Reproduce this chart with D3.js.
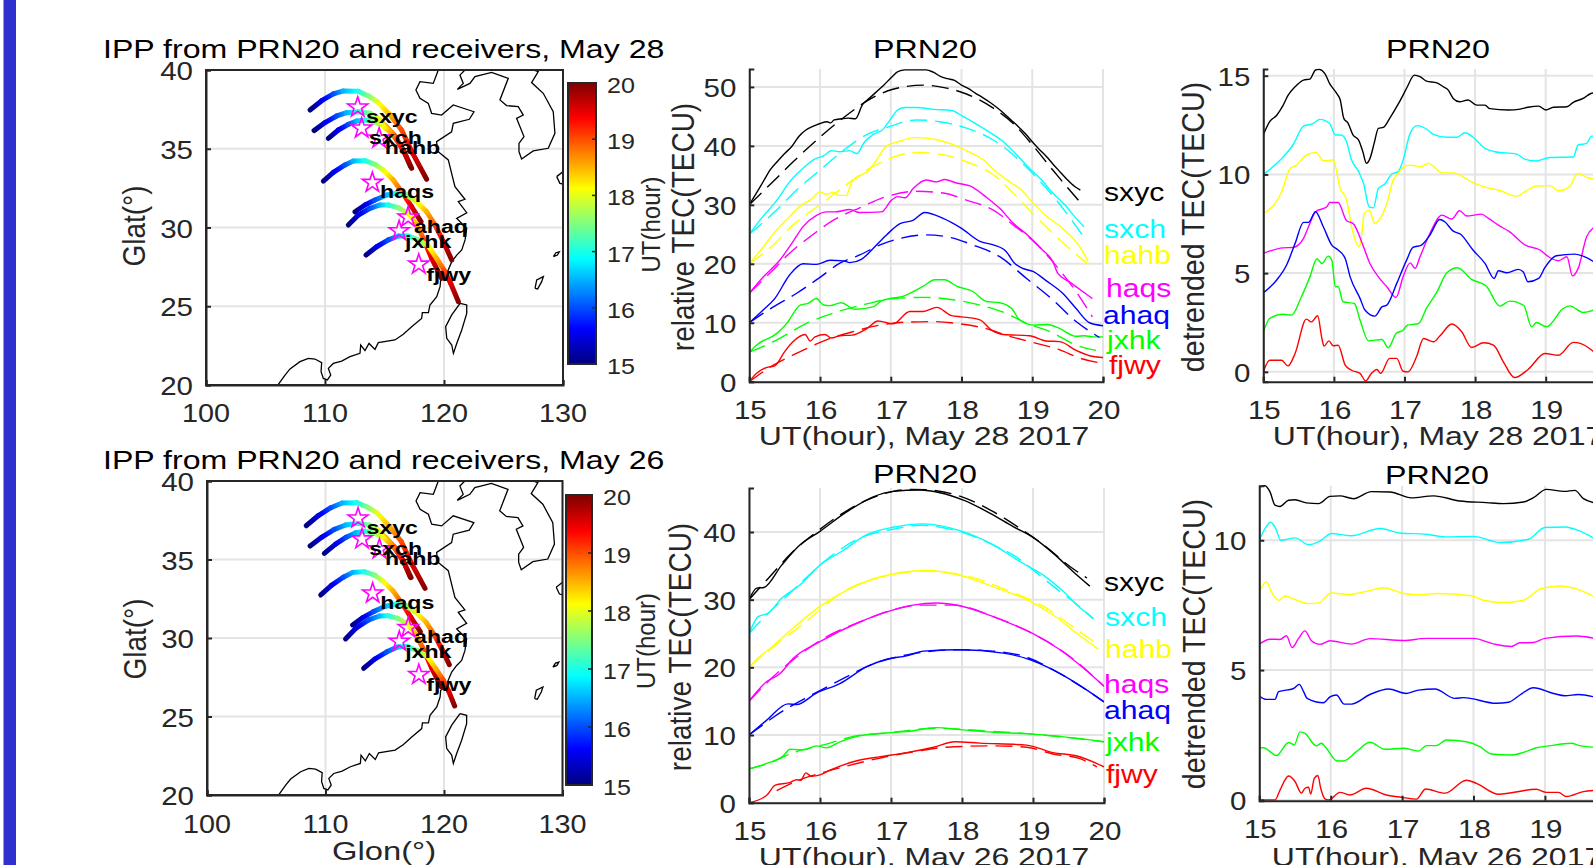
<!DOCTYPE html>
<html>
<head>
<meta charset="utf-8">
<script src="https://cdn.jsdelivr.net/npm/d3@7"></script>
<style>
    html, body { margin: 0; padding: 0; background: #fff; overflow: hidden; }
    text { font-family: "Liberation Sans", Arial, sans-serif; }
</style>
</head>
<body>
<div id="vis"></div>
<script>
// receivers, same order everywhere
const stations = ["sxyc", "sxch", "hahb", "haqs", "ahaq", "jxhk", "fjwy"]
const lineColors = ["#000000", "#00ffff", "#ffff00", "#ff00ff", "#0000ff", "#00ff00", "#ff0000"]

// station position and where its name sits on the map (lon, lat)
const stationLon = [112.75, 113.08, 114.55, 113.98, 116.98, 116.23, 117.88]
const stationLat = [37.63, 36.3, 35.66, 32.85, 30.65, 29.78, 27.66]
const nameLon = [113.45, 113.7, 115.03, 114.62, 117.47, 116.72, 118.5]
const nameLat = [36.63, 35.3, 34.67, 31.87, 29.65, 28.7, 26.6]

// coastline
const coastMain = [[106.08,20.04],[106.64,20.63],[107.06,21.02],[107.9,21.48],[108.6,21.69],[109.16,21.65],[109.72,21.42],[109.67,20.85],[109.86,20.42],[110.2,20.32],[110.48,20.63],[110.28,21.06],[110.7,21.37],[111.4,21.52],[112.1,21.8],[112.94,22.01],[113,22.54],[113.36,22.18],[113.7,22.64],[114.2,22.26],[114.48,22.69],[115.88,22.86],[116.58,23.22],[117.28,23.7],[118.12,24.23],[118.18,24.59],[118.69,24.59],[118.82,25.08],[119.39,25.61],[119.67,26.24],[119.72,26.67],[120.09,26.83],[120.65,27.83],[121.07,28.25],[121.49,28.57],[121.77,29.21],[121.91,29.95],[121.07,30.58],[121.91,30.94],[121.2,31.64],[121.76,31.79],[120.92,32.59],[120.36,34.29],[119.44,34.86],[119.38,35.45],[120.64,36.08],[120.78,36.61],[122.13,36.87],[122.52,37.35],[120.78,37.78],[119.8,37.14],[118.96,37.25],[118.68,37.88],[117.98,38.2],[117.64,38.73],[117.98,39.26],[119.1,39.15],[119.52,40]]
const coastKorea = [[121.76,40],[121.34,39.68],[121.62,39.15],[121.12,38.77],[122.18,39.15],[122.6,39.58],[124,39.85],[125.4,39.47],[124.7,38.1],[125.26,37.74],[126.24,37.67],[126.66,37.14],[126.1,36.93],[126.72,35.77],[126.3,35.34],[126.3,34.81],[126.52,34.35],[127.5,34.86],[128.76,35.03],[129.32,35.98],[129.18,37.35],[128.34,38.52],[127.36,39.2],[127.92,39.9],[127.5,40]]
const coastTaiwan = [[121.35,25.18],[121.91,25.08],[121.91,24.55],[121.49,23.49],[121.07,22.64],[120.79,22.01],[120.65,22.54],[120.23,22.96],[120.14,23.7],[120.65,24.45],[121.35,25.18]]
const coastKyushu = [[129.47,33.23],[130,33.55],[130.2,33.2],[130,32.76],[129.74,32.8],[129.47,33.23]]
const coastAmami = [[129.19,28.15],[129.41,28.4],[129.69,28.46],[129.53,28.25],[129.19,28.15]]
const coastOkinawa = [[127.65,26.14],[127.79,26.67],[128.35,26.88],[128.21,26.56],[127.87,26.1],[127.65,26.14]]

// IPP tracks, one knot every half hour
const trackHours = [15, 15.5, 16, 16.5, 17, 17.5, 18, 18.5, 19, 19.5, 20]
const track28Lon = [
    [108.74,109.72,110.7,111.54,112.8,113.64,114.4,115.46,116.44,117.37,118.54],
    [109.08,110,110.98,111.82,112.8,113.78,114.48,115.18,115.88,116.58,117.28],
    [110.28,111.12,111.96,112.66,113.36,114.06,114.76,115.46,116.02,116.64,117.2],
    [109.86,110.7,111.68,112.38,113.36,114.2,114.9,115.74,116.44,117.28,118.07],
    [112.52,113.36,114.2,115.18,116.02,116.86,117.7,118.54,119.24,119.95,120.65],
    [111.96,112.8,113.78,114.62,115.32,116.16,117,117.7,118.26,118.96,119.8],
    [113.45,114.34,115.32,116.16,117,117.84,118.68,119.38,120,120.56,121.21]
]
const track28Lat = [
    [37.46,38.05,38.48,38.67,38.65,38.35,37.99,37.14,36.19,34.71,33.06],
    [36.15,36.66,37.08,37.29,37.35,37.25,36.93,36.4,35.81,34.92,33.76],
    [35.66,36.19,36.55,36.76,36.83,36.72,36.51,36.08,35.56,34.81,33.86],
    [32.95,33.5,33.97,34.22,34.24,34.01,33.65,33.02,32.28,31.32,30.37],
    [31,31.43,31.75,32.06,32.17,32.06,31.64,31,30.16,29.1,27.94],
    [30.16,30.79,31.22,31.43,31.43,31.26,30.9,30.2,29.3,28.04,26.77],
    [28.25,28.78,29.21,29.46,29.46,29.21,28.83,28.04,27.3,26.46,25.29]
]
const track26Lon = [
    [108.37,109.4,110.45,111.4,112.65,113.55,114.35,115.4,116.4,117.3,118.4],
    [108.7,109.7,110.75,111.7,112.7,113.7,114.42,115.12,115.82,116.52,117.22],
    [109.9,110.85,111.75,112.55,113.28,114,114.7,115.4,116,116.6,117.15],
    [109.6,110.5,111.5,112.3,113.3,114.15,114.85,115.7,116.4,117.22,118],
    [112.29,113.15,114.05,115.05,115.95,116.8,117.65,118.5,119.18,119.85,120.45],
    [111.69,112.6,113.65,114.55,115.25,116.1,116.95,117.65,118.25,118.95,119.75],
    [113.22,114.15,115.18,116.05,116.9,117.75,118.6,119.3,119.92,120.4,120.9]
]
const track26Lat = [
    [37.15,37.8,38.3,38.6,38.62,38.33,37.97,37.1,36.15,34.7,33.16],
    [35.86,36.43,36.92,37.2,37.3,37.2,36.9,36.38,35.8,34.95,33.85],
    [35.39,35.98,36.42,36.7,36.8,36.7,36.5,36.07,35.55,34.85,33.88],
    [32.74,33.35,33.87,34.18,34.22,34,33.63,33,32.27,31.3,30.4],
    [30.83,31.3,31.68,32.02,32.15,32.05,31.63,31,30.2,29.25,28.3],
    [29.94,30.65,31.15,31.4,31.42,31.25,30.9,30.2,29.3,28.1,26.9],
    [28.07,28.65,29.12,29.42,29.46,29.2,28.83,28.05,27.35,26.6,25.67]
]

// relative TEC May 28, [hour, TECU]
const tec28 = [
    [[15,30],[15.1,32],[15.2,34],[15.3,36],[15.4,37.4],[15.5,38.7],[15.6,39.9],[15.7,41.6],[15.8,42.7],[15.9,43.3],[16,43.8],[16.1,44.1],[16.15,43.9],[16.2,44.4],[16.3,44.6],[16.4,44.7],[16.5,44.6],[16.6,47],[16.7,48.1],[16.8,49.2],[16.9,50.3],[17,51.5],[17.1,52.6],[17.2,52.9],[17.3,52.9],[17.4,52.9],[17.5,52.9],[17.6,52.5],[17.7,51.8],[17.8,51.4],[17.9,51.1],[18,50.3],[18.1,49.7],[18.2,48.9],[18.3,48.2],[18.4,47.4],[18.5,46.5],[18.6,45.5],[18.7,44.4],[18.8,43.3],[18.9,42.1],[19,40.7],[19.1,39.4],[19.2,38.2],[19.3,36.8],[19.4,35.5],[19.5,34.2],[19.6,33.1],[19.68,32.5]],
    [[15,25],[15.15,27.4],[15.39,30.8],[15.57,33.9],[15.76,36.2],[15.93,37.8],[16.05,38.3],[16.16,39.2],[16.28,39],[16.42,39.2],[16.52,38.7],[16.63,40.7],[16.75,41.9],[16.89,42.8],[16.99,44.4],[17.1,46.1],[17.2,46.5],[17.36,46.5],[17.6,46.2],[17.86,46],[18.02,45],[18.21,43.7],[18.45,41.9],[18.59,40.7],[18.78,38.5],[18.96,36.2],[19.11,34.5],[19.29,32],[19.46,30],[19.62,27.7],[19.73,26.3]],
    [[15,20],[15.2,22.9],[15.39,25.8],[15.57,28],[15.74,30],[15.86,30.8],[16,32.2],[16.09,31.8],[16.19,32.1],[16.26,31.6],[16.37,31.6],[16.45,33.9],[16.52,34.6],[16.66,35.6],[16.8,37.6],[16.94,40],[17.08,40.6],[17.34,41.4],[17.67,41],[17.88,40.2],[18.12,38.9],[18.31,37.6],[18.49,35.6],[18.68,33.9],[18.82,32.8],[19,30.5],[19.2,28.1],[19.43,26],[19.67,22.9],[19.79,20.4]],
    [[15,15],[15.2,17.8],[15.43,20.6],[15.62,23.8],[15.76,26.3],[15.95,28.2],[16.09,28.8],[16.21,28.8],[16.42,29.2],[16.56,28.7],[16.87,28.8],[17.01,30.8],[17.1,31.4],[17.2,31.2],[17.32,32.8],[17.5,34.2],[17.65,33.9],[17.76,34.3],[17.93,33.7],[18.12,33.2],[18.35,31.3],[18.54,29.4],[18.73,26.9],[18.96,24.6],[19.15,22.3],[19.29,20.4],[19.36,18.4],[19.53,16.9],[19.85,14.1]],
    [[15,10],[15.2,12.2],[15.36,14.1],[15.57,18.1],[15.76,20],[15.95,19.9],[16.14,20.6],[16.33,20.5],[16.42,20.2],[16.59,20.8],[16.75,22.6],[16.94,24.9],[17.13,26.8],[17.32,27.4],[17.48,28.7],[17.74,27.7],[18,26],[18.26,23.8],[18.45,23.2],[18.63,22.1],[18.75,20.1],[18.87,19.2],[19.01,18.7],[19.2,17.1],[19.43,15],[19.62,12.4],[19.81,10],[20,9.5]],
    [[15,5],[15.1,6.2],[15.39,8.2],[15.53,9.9],[15.72,13],[15.83,13.3],[15.95,14.1],[16.05,13],[16.14,12.9],[16.3,13.4],[16.49,12.3],[16.75,12.7],[16.87,13.7],[17.2,14.6],[17.46,16.2],[17.62,17.3],[17.76,17.3],[17.93,16.2],[18.16,15.3],[18.35,13.6],[18.54,13.4],[18.71,12.4],[18.82,10.5],[19.01,9.6],[19.22,9.7],[19.39,9],[19.62,7.7],[19.74,7.8],[19.86,7.6],[20,7.6]],
    [[15,0],[15.1,1.4],[15.24,2.4],[15.36,2.7],[15.5,5.1],[15.62,6.8],[15.79,8],[15.86,6.9],[15.93,7.6],[16.07,8],[16.16,7.4],[16.28,7.8],[16.45,7.9],[16.66,9],[16.82,10.3],[17.03,9.8],[17.27,11.9],[17.46,11.9],[17.65,12.6],[17.86,11.2],[18,11],[18.26,10.5],[18.42,8.8],[18.59,8],[18.96,7.8],[19.2,6.9],[19.39,6.8],[19.62,5.3],[19.81,4.4],[20,4.1]]
]
const fit28 = [
    [[15,30],[15.29,33.4],[15.62,37.3],[16,41.5],[16.4,45.4],[16.66,47.6],[17.03,49.6],[17.46,50.3],[17.79,49.8],[18.07,48.8],[18.45,46.4],[18.73,43.8],[19,40.2],[19.29,35.9],[19.68,30.4]],
    [[15,25],[15.34,28.6],[15.67,32.5],[16,35.9],[16.37,39.6],[16.66,41.9],[16.99,43.3],[17.36,44.4],[17.69,44.1],[18.07,43],[18.45,41],[18.73,38.5],[19,35.4],[19.34,30.8],[19.73,24.5]],
    [[15,20],[15.34,23.2],[15.62,26.6],[16,30],[16.37,33.4],[16.66,35.9],[16.94,37.6],[17.36,38.9],[17.69,38.6],[18.07,37.3],[18.45,35.1],[18.73,32],[19,28.6],[19.34,24.6],[19.79,19.9]],
    [[15,15],[15.34,19],[15.57,21.8],[15.86,24.6],[16.19,27.4],[16.56,29.5],[16.94,31.4],[17.36,32.3],[17.74,32],[18.07,30.8],[18.45,29.1],[18.73,26.6],[19,24],[19.39,18.9],[19.67,14.4],[19.85,11]],
    [[15,10],[15.34,12.7],[15.67,15],[16,17.7],[16.28,20.1],[16.56,21.5],[16.85,23.2],[17.13,24.3],[17.5,24.9],[17.83,24.5],[18.16,23.2],[18.54,21.2],[18.92,17.5],[19.29,13.9],[19.62,10.2],[19.95,7.5]],
    [[15,5],[15.39,7.1],[15.81,9.9],[16.28,12],[16.66,13.2],[17.03,14.1],[17.5,14.3],[17.88,13.9],[18.26,13],[18.63,11.6],[18.92,9.9],[19.25,8.5],[19.62,6.2],[20,5.1]],
    [[15,0],[15.34,2.8],[15.72,5.1],[16.09,7.1],[16.47,8.5],[16.85,9.6],[17.22,10.1],[17.6,10.2],[17.98,9.8],[18.35,9],[18.68,7.7],[19.06,6.5],[19.39,5.4],[19.67,4],[20,3.1]]
]

// relative TEC May 26
const tec26 = [
    [[15,30],[15.11,31.7],[15.21,31.8],[15.46,35.1],[15.72,38.1],[16,40.1],[16.38,43],[16.75,45.2],[17.03,46],[17.41,46.2],[17.69,45.8],[18.02,44.7],[18.39,42.8],[18.72,40.8],[19,39.2],[19.29,36.8],[19.57,34.1],[19.8,32]],
    [[15,25],[15.13,27.5],[15.27,28],[15.46,30.2],[15.72,32.2],[16,35.1],[16.33,37.3],[16.66,39.6],[17.03,40.7],[17.46,41.2],[17.97,40.2],[18.44,38.1],[18.82,35.6],[19.15,33.6],[19.43,31.2],[19.62,29.2],[19.85,27.2]],
    [[15,20],[15.15,21.6],[15.3,22.8],[15.62,25.8],[16,29],[16.38,31.4],[16.8,33.2],[17.5,34.3],[17.97,33.6],[18.44,31.9],[18.91,30],[19.29,27.7],[19.62,25],[19.92,22.7]],
    [[15,15],[15.25,17.9],[15.44,19.1],[15.62,21.3],[16,23.8],[16.56,26.7],[16.94,28.2],[17.31,29.2],[17.64,29.5],[17.97,29.1],[18.44,27.5],[18.72,26.3],[19,25],[19.38,22.6],[19.71,19.9],[20,17.2]],
    [[15,10],[15.25,12.2],[15.55,14.6],[15.67,14.5],[15.95,16.2],[16.28,17.6],[16.66,20.1],[16.94,21.2],[17.22,21.7],[17.46,22.4],[17.97,22.6],[18.58,22.1],[18.91,21.3],[19.29,19.6],[19.62,17.6],[20,14.9]],
    [[15,5],[15.25,5.8],[15.48,6.9],[15.58,7.9],[15.77,7.8],[15.95,8.4],[16.09,8.1],[16.28,9],[16.52,9.8],[16.94,10.3],[17.22,10.5],[17.64,11.1],[17.97,10.8],[18.44,10.4],[18.91,10.2],[19.38,9.8],[20,9]],
    [[15,0],[15.25,1.1],[15.37,2.6],[15.58,3],[15.67,3.4],[15.73,3.3],[15.8,4.4],[15.88,3.9],[16,4.1],[16.14,4.8],[16.52,6.2],[16.85,6.8],[17.22,7.4],[17.6,8.2],[17.9,9],[18.25,8.8],[18.91,8.5],[19.28,7.4],[19.62,6.9],[20,5.3]]
]
const fit26 = [
    [[15,30],[15.25,32.9],[15.62,37.1],[15.95,40],[16.28,42.5],[16.66,44.7],[17.03,46],[17.31,46.3],[17.64,46.1],[17.97,45.3],[18.44,43],[18.82,40.5],[19.15,38.1],[19.52,34.9],[19.76,33.2]],
    [[15,25],[15.15,26.7],[15.62,31.4],[16.09,35.9],[16.56,39.1],[17.03,40.4],[17.41,41],[17.88,40.3],[18.44,38.1],[18.82,35.9],[19,34.4],[19.38,31.2],[19.57,29.7],[19.85,27.2]],
    [[15,20],[15.2,21.8],[15.77,26.5],[16.38,31.5],[16.8,33.2],[17.5,34.2],[18.11,33.4],[18.68,31.2],[19.15,29],[19.52,26.3],[19.92,23.3]],
    [[15,15],[15.34,18.6],[15.62,21.1],[16.09,24.5],[16.56,26.7],[17.03,28.5],[17.41,29.2],[17.88,29.2],[18.44,27.5],[19.05,24.7],[19.52,21.6],[20,17.2]],
    [[15,10],[15.53,13.9],[15.86,15.8],[16.19,17.6],[16.8,20.7],[17.31,22],[17.97,22.6],[18.44,22.4],[18.91,21.5],[19.29,19.6],[20,14.9]],
    [[15,5],[15.3,5.9],[15.6,7.3],[16.14,8.8],[16.47,9.8],[16.94,10.3],[17.64,11],[18.35,10.6],[18.91,10.2],[20,9]],
    [[15.39,1.8],[15.72,3.4],[16.09,4.6],[16.56,5.9],[17.03,7],[17.31,7.5],[17.78,8.2],[18.44,8.4],[18.91,8.2],[19.28,7.2],[19.66,6.5],[19.9,5.3]]
]

// detrended TEC May 28
const det28 = [
    [[15,12],[15.09,12.67],[15.19,13],[15.28,13.5],[15.35,14],[15.45,14.44],[15.57,14.78],[15.66,14.83],[15.74,15.29],[15.79,15.32],[15.87,15.12],[15.94,14.6],[16.04,14.1],[16.09,13.77],[16.14,12.84],[16.2,12.6],[16.27,12],[16.35,11.74],[16.41,11.15],[16.46,10.56],[16.51,10.8],[16.57,11.57],[16.63,12.33],[16.7,12.38],[16.79,12.84],[16.89,13.43],[16.98,14.02],[17.04,14.44],[17.14,15.03],[17.22,14.95],[17.31,14.73],[17.46,14.64],[17.55,14.44],[17.62,14.27],[17.69,13.85],[17.78,13.68],[17.9,13.77],[18.02,13.51],[18.14,13.51],[18.21,13.33],[18.47,13.26],[18.64,13.31],[18.75,13.4],[18.9,13.46],[19,13.26],[19.11,13.4],[19.3,13.43],[19.39,13.65],[19.53,13.85],[19.64,14.1],[19.7,14.14]],
    [[15,10],[15.24,10.73],[15.42,11.49],[15.57,12.45],[15.71,12.58],[15.8,12.79],[15.94,12.58],[16.02,12],[16.1,12],[16.17,11.74],[16.25,10.73],[16.35,10.14],[16.42,9.54],[16.5,8.36],[16.56,8.31],[16.63,9.29],[16.72,9.51],[16.82,10.02],[16.91,10.14],[16.98,10.73],[17.08,12.08],[17.18,12.47],[17.31,12.3],[17.41,12.03],[17.6,11.88],[17.74,11.88],[17.86,12.11],[17.97,11.88],[18.14,11.32],[18.28,11.15],[18.59,11.03],[18.71,10.76],[18.87,10.68],[19.06,10.86],[19.39,10.88],[19.46,11.49],[19.58,11.57],[19.65,11.94],[19.7,11.94]],
    [[15,8],[15.26,9.12],[15.38,10.3],[15.47,10.47],[15.61,10.98],[15.75,11.11],[15.85,10.69],[15.99,10.73],[16.09,9.29],[16.18,8.7],[16.25,7.35],[16.36,6.33],[16.39,6.84],[16.43,8.02],[16.5,8.19],[16.58,7.52],[16.63,7.65],[16.75,8.53],[16.84,9.71],[16.91,10.05],[16.98,10.35],[17.08,10.47],[17.22,10.39],[17.34,10.56],[17.53,10.08],[17.69,10.08],[17.83,9.88],[17.97,9.58],[18.16,9.34],[18.33,9.21],[18.59,8.9],[18.73,9.17],[18.87,9.41],[19.06,9.43],[19.18,9.17],[19.34,9.38],[19.45,10.05],[19.6,9.83],[19.7,9.75]],
    [[15,6],[15.28,6.28],[15.42,6.3],[15.57,6.76],[15.66,7.52],[15.74,8.11],[15.9,8.36],[15.94,8.58],[16.06,8.58],[16.18,7.65],[16.27,7.52],[16.42,6.33],[16.51,5.49],[16.63,4.81],[16.75,4.31],[16.88,3.77],[16.98,4.81],[17.08,5.52],[17.15,5.24],[17.22,5.83],[17.36,7.01],[17.53,7.94],[17.67,7.74],[17.78,8.16],[17.88,7.89],[18.09,7.99],[18.19,7.77],[18.33,7.43],[18.49,7.09],[18.71,6.42],[18.92,6.17],[19.04,5.83],[19.18,5.63],[19.3,5.83],[19.38,4.86],[19.46,5.24],[19.58,6.84],[19.7,7.35]],
    [[15,4],[15.19,4.65],[15.33,5.41],[15.45,6.5],[15.57,7.57],[15.64,7.57],[15.74,8.11],[15.85,7.35],[15.97,6.42],[16.06,6.17],[16.16,5.74],[16.23,4.81],[16.37,3.72],[16.44,3.13],[16.58,2.82],[16.68,3.29],[16.75,3.38],[16.89,4.48],[17.03,5.66],[17.12,6.3],[17.24,6.42],[17.36,6.93],[17.5,7.72],[17.57,7.6],[17.69,7.13],[17.79,6.98],[17.97,6.17],[18.14,5.49],[18.27,4.73],[18.33,5.12],[18.45,5.02],[18.61,5.19],[18.68,5.07],[18.75,4.56],[18.9,4.73],[18.99,5.29],[19.15,5.88],[19.41,5.96],[19.7,5.54]],
    [[15,2],[15.09,2.7],[15.28,2.92],[15.4,2.87],[15.54,3.8],[15.66,4.81],[15.76,5.73],[15.83,5.49],[15.92,5.86],[15.97,5.66],[16.02,4.31],[16.06,4.31],[16.13,3.55],[16.29,3.46],[16.37,2.62],[16.49,1.57],[16.68,1.64],[16.77,1.22],[16.88,1.94],[16.98,2.11],[17.04,2.36],[17.2,2.45],[17.31,3.21],[17.46,4.05],[17.6,5.02],[17.75,5.27],[17.95,4.68],[18.16,4.34],[18.35,3.33],[18.49,3.58],[18.69,3.36],[18.8,2.28],[18.87,2.5],[19.01,2.28],[19.25,3.21],[19.34,3.34],[19.53,3.01],[19.7,3.16]],
    [[15,0],[15.09,0.59],[15.26,0.59],[15.35,0.3],[15.45,0.93],[15.61,2.67],[15.68,2.53],[15.77,2.84],[15.83,1.69],[15.86,1.3],[15.93,1.57],[15.99,1.32],[16.06,1.35],[16.16,0.34],[16.25,0.08],[16.37,-0.08],[16.45,-0.46],[16.53,-0.08],[16.61,0.12],[16.66,-0.08],[16.79,0.68],[16.89,0.68],[16.98,0.03],[17.05,0],[17.17,0.76],[17.27,1.69],[17.41,1.52],[17.5,1.81],[17.67,2.42],[17.81,2.03],[17.95,1.23],[18.12,1.47],[18.26,1.35],[18.4,0.51],[18.56,-0.29],[18.75,0.12],[18.99,0.93],[19.18,0.84],[19.39,1.49],[19.49,1.44],[19.7,0.96]]
]

// detrended TEC May 26
const det26 = [
    [[15,12.05],[15.08,12.1],[15.15,11.86],[15.22,11.35],[15.29,11.3],[15.41,11.54],[15.5,11.56],[15.66,11.44],[15.83,11.41],[15.99,11.69],[16.13,11.71],[16.32,11.6],[16.57,11.87],[16.83,11.86],[17.13,11.63],[17.44,11.71],[17.81,11.51],[18.18,11.45],[18.42,11.41],[18.7,11.47],[18.84,11.64],[19.02,11.96],[19.27,11.88],[19.42,11.92],[19.54,11.6],[19.7,11.44]],
    [[15,10],[15.08,10.45],[15.16,10.69],[15.23,10.45],[15.3,10],[15.5,10.09],[15.69,9.83],[15.85,9.97],[16.01,10.26],[16.29,10.17],[16.69,10.45],[16.97,10.28],[17.34,10.23],[17.6,10.13],[18,10.15],[18.37,9.91],[18.77,10.04],[19,10.49],[19.28,10.51],[19.49,10.35],[19.7,10.05]],
    [[15,8],[15.1,8.4],[15.17,8.01],[15.27,7.69],[15.36,7.85],[15.5,7.72],[15.69,7.56],[15.83,7.59],[16.01,7.97],[16.25,7.91],[16.53,8.05],[16.74,8.17],[17.02,7.95],[17.25,7.9],[17.48,7.95],[17.97,7.86],[18.14,7.69],[18.42,7.6],[18.7,7.69],[18.95,8.14],[19.21,8.24],[19.49,8.08],[19.7,7.82]],
    [[15,6],[15.15,6.19],[15.29,6.18],[15.38,6.32],[15.46,5.87],[15.55,6.22],[15.64,6.51],[15.73,6.13],[15.85,5.99],[15.99,6.13],[16.29,6],[16.55,6.21],[17.02,6.14],[17.34,6.22],[18,6.22],[18.28,6.01],[18.53,5.91],[18.65,6.05],[18.84,6.06],[19,6.22],[19.44,6.31],[19.7,6.22]],
    [[15,4],[15.1,3.87],[15.22,3.87],[15.27,4.17],[15.48,4.29],[15.56,4.45],[15.62,4.17],[15.67,3.91],[15.9,3.74],[15.99,3.97],[16.08,4.04],[16.19,3.69],[16.29,3.69],[16.55,4.06],[16.81,4.27],[17.06,4.1],[17.23,4.23],[17.46,4.27],[17.74,3.91],[17.86,3.94],[18.32,3.72],[18.49,3.76],[18.65,4.04],[18.84,4.32],[19.12,4.1],[19.28,4.01],[19.47,4.06],[19.7,3.96]],
    [[15,2],[15.06,2.01],[15.24,1.71],[15.41,2.21],[15.49,2.12],[15.57,2.62],[15.64,2.56],[15.8,2.08],[15.87,2.18],[15.94,1.99],[16.08,1.51],[16.18,1.5],[16.36,1.86],[16.55,2.22],[16.76,1.95],[17.02,1.99],[17.23,1.88],[17.34,2.09],[17.48,2.09],[17.62,2.31],[17.9,2.24],[18.09,2.05],[18.25,1.77],[18.53,1.73],[18.7,1.83],[18.88,2.01],[19.05,2.08],[19.37,2.18],[19.49,2.09],[19.7,2.03]],
    [[15,0],[15.22,0],[15.29,0.38],[15.41,0.92],[15.5,0.71],[15.59,0.26],[15.64,0.45],[15.69,0.49],[15.72,0.23],[15.77,0.83],[15.82,0.94],[15.86,0.45],[15.92,0.04],[15.97,0],[16.13,0.29],[16.27,0.19],[16.5,0.45],[16.78,0.19],[17.02,0.09],[17.2,0.03],[17.33,0.42],[17.6,0.26],[17.9,0.76],[18.04,0.64],[18.35,0.22],[18.88,0.41],[19.02,0.29],[19.19,0.29],[19.3,0.13],[19.54,0.32],[19.7,0.37]]
]

const hourTicks = [15, 16, 17, 18, 19, 20]
const width = 1593
const height = 865
const axisColor = "#262626"
const gridColor = "#e4e4e4"

const svg = d3.select("#vis")
    .append("svg")
    .attr("width", width)
    .attr("height", height)

const defs = svg.append("defs")
let clipCount = 0
let gradCount = 0

// blue strip on the left of the screenshot
svg.append("rect")
    .attr("x", 3.5).attr("y", 0)
    .attr("width", 12.5).attr("height", height)
    .attr("fill", "#3030d0")

// the figure is wider than tall, so text gets stretched a bit sideways
function addText(str, x, y, opt) {
    opt = opt || {}
    const sx = opt.sx || 1.18
    const rot = opt.rotate ? " rotate(-90)" : ""
    return svg.append("text")
        .attr("transform", "translate(" + x + "," + y + ") scale(" + sx + ",1)" + rot)
        .attr("text-anchor", opt.anchor || "start")
        .attr("font-size", opt.size || 24)
        .attr("font-weight", opt.weight || "normal")
        .attr("fill", opt.color || axisColor)
        .text(str)
}

function jet(t) {
    const c = v => Math.round(255 * Math.max(0, Math.min(1, v)))
    return "rgb(" + c(1.5 - Math.abs(4 * t - 3)) + "," + c(1.5 - Math.abs(4 * t - 2)) + "," + c(1.5 - Math.abs(4 * t - 1)) + ")"
}

function addClip(b) {
    const id = "clip" + (clipCount++)
    defs.append("clipPath").attr("id", id)
        .append("rect")
        .attr("x", b.x0).attr("y", b.y1)
        .attr("width", b.x1 - b.x0).attr("height", b.y0 - b.y1)
    return "url(#" + id + ")"
}

function drawGrid(g, x, y, b, xTicks, yTicks) {
    g.selectAll(".gx").data(xTicks).join("line")
        .attr("x1", d => x(d)).attr("x2", d => x(d))
        .attr("y1", b.y0).attr("y2", b.y1)
        .attr("stroke", gridColor).attr("stroke-width", 2)
    g.selectAll(".gy").data(yTicks).join("line")
        .attr("x1", b.x0).attr("x2", b.x1)
        .attr("y1", d => y(d)).attr("y2", d => y(d))
        .attr("stroke", gridColor).attr("stroke-width", 2)
}

function styleAxis(sel) {
    sel.selectAll("path,line").attr("stroke", axisColor).attr("stroke-width", 2)
    sel.selectAll("text").remove()
}

function drawMap(b, bar, lons, lats, opt) {
    const x = d3.scaleLinear().domain([100, 130]).range([b.x0, b.x1])
    const y = d3.scaleLinear().domain([20, 40]).range([b.y0, b.y1])
    const xTicks = [100, 110, 120, 130]
    const yTicks = [20, 25, 30, 35, 40]
    const clip = addClip(b)

    const g = svg.append("g")
    drawGrid(g, x, y, b, xTicks, yTicks)

    // coast
    const coastLine = d3.line().x(d => x(d[0])).y(d => y(d[1]))
    g.append("g").attr("clip-path", clip)
        .selectAll("path")
        .data([coastMain, coastKorea, coastTaiwan, coastKyushu, coastAmami, coastOkinawa])
        .join("path")
        .attr("d", coastLine)
        .attr("fill", "none")
        .attr("stroke", "#000")
        .attr("stroke-width", 1.3)

    // tracks, a gradient on every piece so the colour runs with UT
    const tg = g.append("g")
    const utToColor = d => jet((d - 15) / 5)
    lons.forEach(function(lon, i) {
        for (let k = 0; k < trackHours.length - 1; k++) {
            const id = "seg" + (gradCount++)
            const x1 = x(lon[k]), y1 = y(lats[i][k]), x2 = x(lon[k + 1]), y2 = y(lats[i][k + 1])
            const grad = defs.append("linearGradient").attr("id", id)
                .attr("gradientUnits", "userSpaceOnUse")
                .attr("x1", x1).attr("y1", y1).attr("x2", x2).attr("y2", y2)
            d3.range(5).forEach(function(s) {
                grad.append("stop").attr("offset", s / 4)
                    .attr("stop-color", utToColor(trackHours[k] + (trackHours[k + 1] - trackHours[k]) * s / 4))
            })
            tg.append("line")
                .attr("x1", x1).attr("y1", y1).attr("x2", x2).attr("y2", y2)
                .attr("stroke", "url(#" + id + ")")
                .attr("stroke-width", 5)
                .attr("stroke-linecap", "round")
        }
    })

    // stations
    const star = d3.symbol().type(d3.symbolStar).size(125)
    g.selectAll(".star").data(stations).join("path")
        .attr("d", star)
        .attr("transform", (d, i) => "translate(" + x(stationLon[i]) + "," + y(stationLat[i]) + ")")
        .attr("fill", "none")
        .attr("stroke", "#ff00ff")
        .attr("stroke-width", 1.6)

    stations.forEach(function(s, i) {
        addText(s, x(nameLon[i]), y(nameLat[i]), { size: 19, sx: 1.22, weight: "bold", color: "#000" })
    })

    // box
    svg.append("rect")
        .attr("x", b.x0).attr("y", b.y1)
        .attr("width", b.x1 - b.x0).attr("height", b.y0 - b.y1)
        .attr("fill", "none").attr("stroke", axisColor).attr("stroke-width", 2)
    svg.append("g").attr("transform", "translate(0," + b.y0 + ")")
        .call(d3.axisBottom(x).tickValues(xTicks).tickSize(-5))
        .call(styleAxis)
    svg.append("g").attr("transform", "translate(" + b.x0 + ",0)")
        .call(d3.axisLeft(y).tickValues(yTicks).tickSize(-5))
        .call(styleAxis)

    xTicks.forEach(t => addText(t, x(t), opt.xLabelY, { anchor: "middle", size: 25, sx: 1.15 }))
    yTicks.forEach(t => addText(t, b.x0 - 13, y(t) + 10, { anchor: "end", size: 25, sx: 1.18 }))

    // colorbar
    const cy = d3.scaleLinear().domain([15, 20]).range([bar.y0, bar.y1])
    const gid = "bar" + (gradCount++)
    const lg = defs.append("linearGradient").attr("id", gid)
        .attr("x1", 0).attr("y1", 1).attr("x2", 0).attr("y2", 0)
    d3.range(33).forEach(function(s) {
        lg.append("stop").attr("offset", s / 32).attr("stop-color", jet(s / 32))
    })
    svg.append("rect")
        .attr("x", bar.x0).attr("y", bar.y1)
        .attr("width", bar.x1 - bar.x0).attr("height", bar.y0 - bar.y1)
        .attr("fill", "url(#" + gid + ")")
        .attr("stroke", axisColor).attr("stroke-width", 2)
    svg.append("g").selectAll("line").data([16, 17, 18, 19]).join("line")
        .attr("x1", bar.x1 - 4).attr("x2", bar.x1)
        .attr("y1", d => cy(d)).attr("y2", d => cy(d))
        .attr("stroke", axisColor).attr("stroke-width", 1.5)
    d3.range(15, 21).forEach(t => addText(t, bar.labelX, cy(t) + 10, { size: 22, sx: 1.14 }))
    addText("UT(hour)", bar.titleX, (bar.y0 + bar.y1) / 2 + 1, { size: 24, sx: 1.05, anchor: "middle", rotate: true })
}

function drawLines(b, xDomain, yDomain, yTicks, solid, dashed) {
    const x = d3.scaleLinear().domain(xDomain).range([b.x0, b.x1])
    const y = d3.scaleLinear().domain(yDomain).range([b.y0, b.y1])
    const xGrid = hourTicks.filter(t => x(t) <= width)
    const clip = addClip({ x0: b.x0, x1: b.x1, y0: b.y0 + 2, y1: b.y1 - 2 })

    const g = svg.append("g")
    drawGrid(g, x, y, b, xGrid, yTicks)

    const line = d3.line().curve(d3.curveMonotoneX).x(d => x(d[0])).y(d => y(d[1]))
    const lg = g.append("g").attr("clip-path", clip)
    lg.selectAll(".solid").data(solid).join("path")
        .attr("d", line)
        .attr("fill", "none")
        .attr("stroke", (d, i) => lineColors[i])
        .attr("stroke-width", 1.4)
    if (dashed) {
        lg.selectAll(".dash").data(dashed).join("path")
            .attr("d", line)
            .attr("fill", "none")
            .attr("stroke", (d, i) => lineColors[i])
            .attr("stroke-width", 1.4)
            .attr("stroke-dasharray", "17 8")
    }

    svg.append("g").attr("transform", "translate(0," + b.y0 + ")")
        .call(d3.axisBottom(x).tickValues(hourTicks).tickSize(-5))
        .call(styleAxis)
    svg.append("g").attr("transform", "translate(" + b.x0 + ",0)")
        .call(d3.axisLeft(y).tickValues(yTicks).tickSize(-5))
        .call(styleAxis)

    xGrid.forEach(t => addText(t, x(t) + 1, b.xLabelY, { anchor: "middle", size: 25 }))
    yTicks.forEach(t => addText(t, b.x0 - 13, y(t) + 10, { anchor: "end", size: 25 }))
}

// left maps
drawMap({ x0: 206, x1: 563, y0: 385, y1: 70 },
    { x0: 568, x1: 596, y0: 364, y1: 83, labelX: 607, titleX: 660 },
    track28Lon, track28Lat, { xLabelY: 422 })
drawMap({ x0: 207, x1: 562.5, y0: 795, y1: 481 },
    { x0: 566, x1: 592, y0: 785, y1: 495, labelX: 603, titleX: 655 },
    track26Lon, track26Lat, { xLabelY: 833 })

// middle panels
drawLines({ x0: 749.3, x1: 1103, y0: 381.7, y1: 69, xLabelY: 419 }, [15, 20], [0, 53.04], [0, 10, 20, 30, 40, 50], tec28, fit28)
drawLines({ x0: 749, x1: 1104, y0: 802.7, y1: 488, xLabelY: 840 }, [15, 20], [0, 46.5], [0, 10, 20, 30, 40], tec26, fit26)

// right panels, they run past the edge of the window
drawLines({ x0: 1263.3, x1: 1616.3, y0: 381.7, y1: 69, xLabelY: 419 }, [15, 20], [-0.5, 15.34], [0, 5, 10, 15], det28)
drawLines({ x0: 1259.3, x1: 1616.3, y0: 800.7, y1: 485.7, xLabelY: 838 }, [15, 20], [-0.03, 12.1], [0, 5, 10], det26)

// titles and axis labels
const titleOpt = { size: 26, sx: 1.235, color: "#000" }
addText("IPP from PRN20 and receivers, May 28", 103, 58, titleOpt)
addText("IPP from PRN20 and receivers, May 26", 103, 469, titleOpt)
const centerTitle = { size: 26, sx: 1.24, color: "#000", anchor: "middle" }
addText("PRN20", 925, 58, centerTitle)
addText("PRN20", 1438, 58, centerTitle)
addText("PRN20", 925, 483, centerTitle)
addText("PRN20", 1437, 484, centerTitle)

const xlab = { size: 26, sx: 1.23, anchor: "middle" }
addText("UT(hour), May 28 2017", 924, 445, xlab)
addText("UT(hour), May 28 2017", 1438, 445, xlab)
addText("UT(hour), May 26 2017", 924, 866, xlab)
addText("UT(hour), May 26 2017", 1437, 866, xlab)
addText("Glon(\u00b0)", 384, 860, { size: 26, sx: 1.26, anchor: "middle" })

const ylab = { size: 28, sx: 1.12, anchor: "middle", rotate: true }
addText("Glat(\u00b0)", 145, 226, ylab)
addText("Glat(\u00b0)", 146, 639, ylab)
addText("relative TEC(TECU)", 694, 227, ylab)
addText("relative TEC(TECU)", 691, 647, ylab)
const ylabWide = { size: 28.6, sx: 1.12, anchor: "middle", rotate: true }
addText("detrended TEC(TECU)", 1204, 227, ylabWide)
addText("detrended TEC(TECU)", 1205, 644, ylabWide)

// receiver names next to the middle panels
const name28X = [1104, 1104, 1104, 1106, 1103, 1107, 1109]
const name28Y = [201, 238, 264, 297, 324, 349, 374]
const name26X = [1104, 1105, 1105, 1104, 1104, 1106, 1106]
const name26Y = [591, 626, 658, 693, 719, 751, 783]
stations.forEach(function(s, i) {
    addText(s, name28X[i], name28Y[i], { size: 26, sx: 1.16, color: lineColors[i] })
    addText(s, name26X[i], name26Y[i], { size: 26, sx: 1.16, color: lineColors[i] })
})
</script>
</body>
</html>
